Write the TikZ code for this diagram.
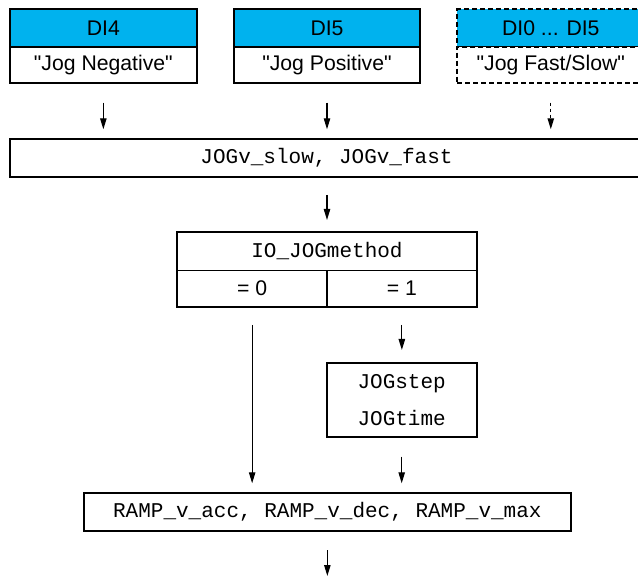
\documentclass[tikz,border=0pt]{standalone}
\usepackage{fontspec}
\setmainfont{Liberation Sans}
\setmonofont{Liberation Mono}
\usepackage{tikz}
\usetikzlibrary{arrows.meta, positioning}
\definecolor{dihead}{RGB}{0, 178, 238}

\begin{document}
\begin{tikzpicture}[
  x=0.5pt, y=-0.5pt,
  every node/.style={inner sep=0pt, outer sep=0pt},
  head/.style={rectangle, draw, line width=1pt, fill=dihead,
              minimum width=93.35pt, minimum height=18.85pt, font=\fontsize{10.6}{12}\selectfont},
  lab/.style={rectangle, draw, line width=1pt, fill=white,
              minimum width=93.35pt, minimum height=18.3pt, font=\fontsize{10.6}{12}\selectfont},
  param/.style={rectangle, draw, line width=1pt, align=center,
              font=\ttfamily\fontsize{10.5}{18.5}\selectfont},
  cell/.style={rectangle, draw, line width=0.6pt, minimum width=74.85pt,
              minimum height=18pt, font=\fontsize{10.6}{12}\selectfont},
  arr/.style={-{Triangle[length=5.5pt, width=3.2pt]}, line width=0.6pt},
  opt/.style={dash pattern=on 2.5pt off 1.5pt}
]
  \useasboundingbox (0,0) rectangle (638,577);

  \node[head] (di4) at (103.35,27.85) {DI4};
  \node[lab, below=0pt of di4] (neg) {\textquotedbl Jog Negative\textquotedbl};
  \node[head] (di5) at (327,27.85) {DI5};
  \node[lab, below=0pt of di5] (pos) {\textquotedbl Jog Positive\textquotedbl};
  \node[head, opt] (di0) at (550.8,27.85) {DI0 ... DI5};
  \node[lab, opt, below=0pt of di0] (fast) {\textquotedbl Jog Fast/Slow\textquotedbl};

  \node[param, minimum width=316.5pt, minimum height=18.7pt] (jogv) at (326.5,158) {JOGv\_slow, JOGv\_fast};

  \node[cell, minimum width=149.7pt, minimum height=19.2pt,
        font=\ttfamily\fontsize{10.5}{12}\selectfont] (io) at (327,251.5) {IO\_JOGmethod};
  \node[cell, anchor=north west] (io0) at (io.south west) {= 0};
  \node[cell, anchor=north west] (io1) at (io0.north east) {= 1};
  \draw[line width=1pt] (io.north west) rectangle (io1.south east);

  \node[param, minimum width=75pt, minimum height=37.3pt] (step) at (401.7,400) {JOGstep\\JOGtime};
  \node[param, minimum width=243.35pt, minimum height=18.85pt] (ramp) at (327.35,512.15)
       {RAMP\_v\_acc, RAMP\_v\_dec, RAMP\_v\_max};
  \coordinate (out) at (327.35,576);

  \draw[arr, shorten <=9.7pt, shorten >=5pt] (neg.south) -- (neg.south |- jogv.north);
  \draw[arr, shorten <=9.7pt, shorten >=5pt] (pos.south) -- (pos.south |- jogv.north);
  \draw[arr, dash pattern=on 1.5pt off 1.5pt, shorten <=9.7pt, shorten >=5pt]
       (fast.south) -- (fast.south |- jogv.north);
  \draw[arr, shorten <=9.15pt, shorten >=6.15pt] (jogv.south -| io.north) -- (io.north);
  \draw[arr, shorten <=9.15pt, shorten >=5pt] (io0.south) -- (io0.south |- ramp.north);
  \draw[arr, shorten <=9.15pt, shorten >=6.35pt] (io1.south) -- (io1.south |- step.north);
  \draw[arr, shorten <=9.7pt, shorten >=5pt] (step.south) -- (step.south |- ramp.north);
  \draw[arr, shorten <=9.5pt] (ramp.south) -- (out);
\end{tikzpicture}
\end{document}
